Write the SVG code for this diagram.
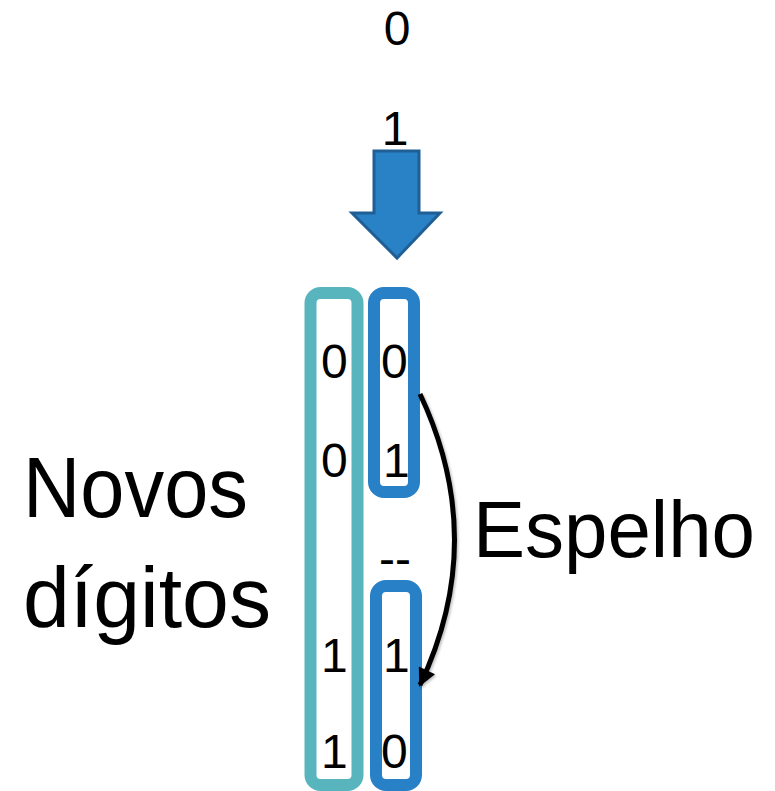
<svg xmlns="http://www.w3.org/2000/svg" width="775" height="791" viewBox="0 0 775 791">
  <style>
    .digit { font-family: "Liberation Sans", Arial, sans-serif; font-size: 48px; fill: #000; }
    .label { font-family: "Liberation Sans", Arial, sans-serif; font-size: 85px; fill: #000; }
    .teal { fill: none; stroke: #58B5BE; stroke-width: 12; }
    .blue { fill: none; stroke: #2880C6; stroke-width: 12; }
    .link { fill: none; stroke: #000; stroke-width: 5; }
  </style>
  <defs>
    <marker id="head" viewBox="0 0 10 10" refX="9" refY="5" markerWidth="4.2" markerHeight="3.6" orient="auto" markerUnits="strokeWidth">
      <path d="M0,0 L10,5 L0,10 Z" fill="#000"/>
    </marker>
    <filter id="soft" x="-20%" y="-20%" width="140%" height="140%">
      <feDropShadow dx="1.5" dy="1.5" stdDeviation="1.2" flood-color="#000" flood-opacity="0.25"/>
    </filter>
  </defs>
  <rect width="775" height="791" fill="#fff"/>

  <!-- input bits -->
  <g id="input">
    <text class="digit" x="397" y="45" text-anchor="middle">0</text>
    <text class="digit" x="395" y="145" text-anchor="middle">1</text>
  </g>

  <!-- down arrow -->
  <g id="down-arrow">
    <polygon points="374,151 419,151 419,213 440,213 397,258 352,213 374,213" fill="#2A82C6" stroke="#1F5F96" stroke-width="3" stroke-linejoin="miter"/>
  </g>

  <!-- new leading digits column -->
  <g id="new-digits">
    <text class="digit" x="321" y="378">0</text>
    <text class="digit" x="321" y="477">0</text>
    <text class="digit" x="321" y="672">1</text>
    <text class="digit" x="321" y="768">1</text>
    <rect class="teal" x="310.5" y="293" width="47" height="492" rx="10"/>
  </g>

  <!-- original sequence -->
  <g id="original">
    <text class="digit" x="381" y="378">0</text>
    <text class="digit" x="383" y="477">1</text>
    <rect class="blue" x="374" y="293" width="40" height="199" rx="10"/>
  </g>

  <!-- separator -->
  <g id="separator">
    <text class="digit" x="379" y="575">--</text>
  </g>

  <!-- reflected sequence -->
  <g id="mirror">
    <text class="digit" x="383" y="672">1</text>
    <text class="digit" x="381" y="768">0</text>
    <rect class="blue" x="376" y="586" width="40" height="199" rx="10"/>
  </g>

  <!-- connectors -->
  <g id="connectors">
    <path class="link" filter="url(#soft)" d="M420,394 Q489,540 420,685" marker-end="url(#head)"/>
  </g>

  <!-- labels -->
  <g id="label-novos">
    <text class="label" x="23" y="517" textLength="225" lengthAdjust="spacingAndGlyphs">Novos</text>
    <text class="label" x="23" y="627" textLength="248" lengthAdjust="spacingAndGlyphs">dígitos</text>
  </g>
  <g id="label-espelho">
    <text class="label" x="473" y="557" font-size="80" style="font-size:80px" textLength="282" lengthAdjust="spacingAndGlyphs">Espelho</text>
  </g>
</svg>
